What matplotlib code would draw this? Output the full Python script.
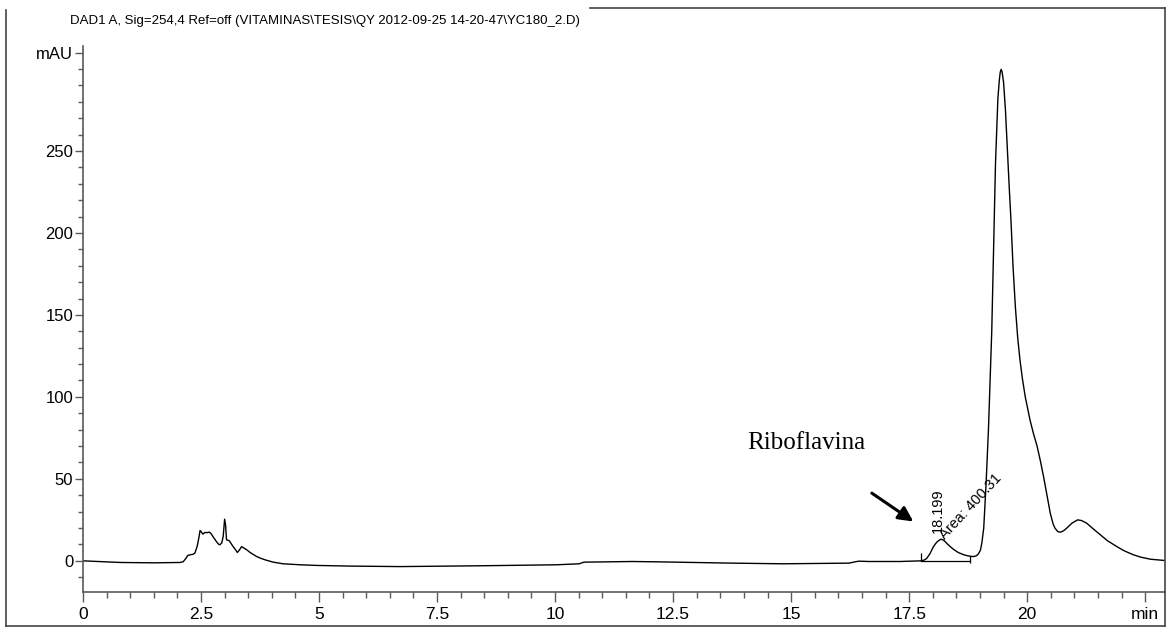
import numpy as np
import matplotlib
matplotlib.use('Agg')
import matplotlib.pyplot as plt
from matplotlib.lines import Line2D

plt.rcParams['font.family'] = ['Liberation Sans', 'DejaVu Sans']

# chromatogram trace, retention time (min) vs absorbance (mAU)
rt_min = [0.0, 0.3, 0.8, 1.5, 2.05, 2.12, 2.18, 2.22, 2.27, 2.33, 2.37, 2.42, 2.46, 2.48,
          2.51, 2.54, 2.58, 2.63, 2.68, 2.72, 2.76, 2.82, 2.87, 2.90, 2.94, 2.97, 3.00,
          3.02, 3.04, 3.07, 3.10, 3.14, 3.18, 3.23, 3.27, 3.31, 3.36, 3.41, 3.47, 3.54,
          3.60, 3.68, 3.77, 3.86, 4.03, 4.24, 4.60, 4.95, 5.66, 6.72, 8.43, 10.03, 10.51,
          10.61, 11.63, 12.16, 13.76, 14.83, 16.22, 16.43, 16.65, 17.30, 17.75, 17.82,
          17.87, 17.94, 18.01, 18.06, 18.10, 18.17, 18.22, 18.26, 18.31, 18.37, 18.45,
          18.54, 18.63, 18.72, 18.80, 18.86, 18.92, 18.97, 19.01, 19.04, 19.08, 19.13,
          19.18, 19.22, 19.25, 19.28, 19.31, 19.33, 19.36, 19.38, 19.41, 19.43, 19.45,
          19.47, 19.50, 19.54, 19.57, 19.62, 19.66, 19.70, 19.75, 19.80, 19.85, 19.90,
          19.96, 20.06, 20.13, 20.21, 20.28, 20.35, 20.42, 20.49, 20.55, 20.59, 20.65,
          20.71, 20.77, 20.84, 20.95, 21.07, 21.15, 21.26, 21.40, 21.55, 21.70, 21.90,
          22.05, 22.25, 22.40, 22.61, 22.92]
signal_mau = [0.0, -0.4, -1.0, -1.2, -1.0, -0.6, 1.5, 3.3, 3.7, 4.0, 4.7, 9.0, 15.0, 18.5,
              17.5, 16.3, 17.3, 17.2, 17.5, 16.3, 14.5, 12.0, 10.2, 9.8, 11.0, 15.0, 25.4,
              22.0, 12.8, 12.6, 12.2, 10.5, 8.7, 6.8, 5.1, 6.5, 8.7, 7.8, 6.7, 5.1,
              4.0, 2.6, 1.5, 0.6, -0.8, -1.8, -2.4, -2.8, -3.2, -3.5, -3.0, -2.4, -1.8,
              -0.8, -0.4, -0.6, -1.4, -1.8, -1.4, -0.2, -0.4, -0.4, 0.0, 0.5,
              1.4, 4.3, 8.4, 10.5, 11.8, 13.2, 12.8, 11.8, 10.3, 8.7, 6.8,
              5.1, 4.0, 3.2, 2.8, 2.6, 3.0, 4.3, 6.5, 10.8, 20.0, 47.0,
              80.0, 114.0, 140.0, 178.0, 216.0, 243.0, 267.0, 282.0, 293.0, 298.0, 299.8,
              298.0, 292.0, 275.0, 257.0, 228.0, 206.0, 180.0, 155.0, 136.0, 122.0, 111.0,
              100.0, 86.0, 78.0, 70.0, 61.0, 51.0, 40.0, 29.0, 22.5, 19.9, 17.8,
              17.5, 18.3, 20.0, 23.0, 25.0, 24.6, 23.0, 19.5, 15.9, 12.3, 8.7,
              6.2, 3.7, 2.3, 1.0, 0.2]

# integration of the riboflavin peak
peak_rt = 18.199
peak_area = 400.31
base_start = 17.75
base_end = 18.78

title = 'DAD1 A, Sig=254,4 Ref=off (VITAMINAS\\TESIS\\QY 2012-09-25 14-20-47\\YC180_2.D)'
x_ticks = [0, 2.5, 5, 7.5, 10, 12.5, 15, 17.5, 20, 22.5]
x_tick_labels = ['0', '2.5', '5', '7.5', '10', '12.5', '15', '17.5', '20', 'min']
y_ticks = [0, 50, 100, 150, 200, 250, 310]
y_tick_labels = ['0', '50', '100', '150', '200', '250', 'mAU']

W, H = 1166, 627
fig = plt.figure(figsize=(W / 100, H / 100), dpi=100)
ax = fig.add_axes([83 / W, 35 / H, 1082 / W, 546 / H])

ax.plot(rt_min, signal_mau, color='black', lw=1.0)

# baseline drawn under the integrated peak
ax.plot([base_start, base_end], [0, 0], color='black', lw=0.9)
ax.vlines(base_start, 0, 4.5, color='black', lw=0.9)
ax.vlines(base_end, -1.5, 3.0, color='black', lw=0.9)

ax.text(18.10, 17, f'{peak_rt:.3f}', rotation=90, ha='center', va='bottom', fontsize=10.5)
ax.text(18.26, 13, f'Area: {peak_area:.2f}', rotation=47, rotation_mode='anchor',
        ha='left', va='baseline', fontsize=10.5)

ax.text(14.06, 68, 'Riboflavina', family='Liberation Serif', fontsize=18,
        ha='left', va='baseline')
ax.annotate('', xy=(17.59, 24.0), xytext=(16.71, 41.3),
            arrowprops=dict(arrowstyle='-|>', color='black', lw=2.2,
                            mutation_scale=22, shrinkA=0, shrinkB=0))

ax.set_xlim(0, 22.92)
ax.set_ylim(-19, 314)

ax.set_xticks(x_ticks)
ax.set_xticklabels(x_tick_labels)
ax.set_xticks(np.arange(0, 22.9, 0.5), minor=True)
ax.set_yticks(y_ticks)
ax.set_yticklabels(y_tick_labels)
ax.set_yticks(np.arange(-10, 301, 10), minor=True)

axis_grey = '#5a5a5a'
for side in ['top', 'right']:
    ax.spines[side].set_visible(False)
for side in ['left', 'bottom']:
    ax.spines[side].set_color(axis_grey)
    ax.spines[side].set_linewidth(1.2)

ax.tick_params(axis='x', which='major', direction='out', length=7.5, width=1,
               color=axis_grey, labelsize=12.5, pad=3)
ax.tick_params(axis='x', which='minor', direction='out', length=4, width=1, color=axis_grey)
ax.tick_params(axis='y', which='major', direction='out', length=6, width=1,
               color=axis_grey, labelsize=12, pad=1)
ax.tick_params(axis='y', which='minor', direction='out', length=3.5, width=1, color=axis_grey)

fig.text(70 / W, 1 - 24 / H, title, fontsize=9.5, ha='left', va='baseline')

# page frame around the report
frame = [((6, 10), (6, 626)), ((6, 626), (1165, 626)),
         ((1165, 8), (1165, 626)), ((590, 8), (1165, 8))]
for (x0, y0), (x1, y1) in frame:
    fig.add_artist(Line2D([x0 / W, x1 / W], [1 - y0 / H, 1 - y1 / H],
                          transform=fig.transFigure, color='#444444', lw=1.2))

fig.savefig('out.png', dpi=100)
